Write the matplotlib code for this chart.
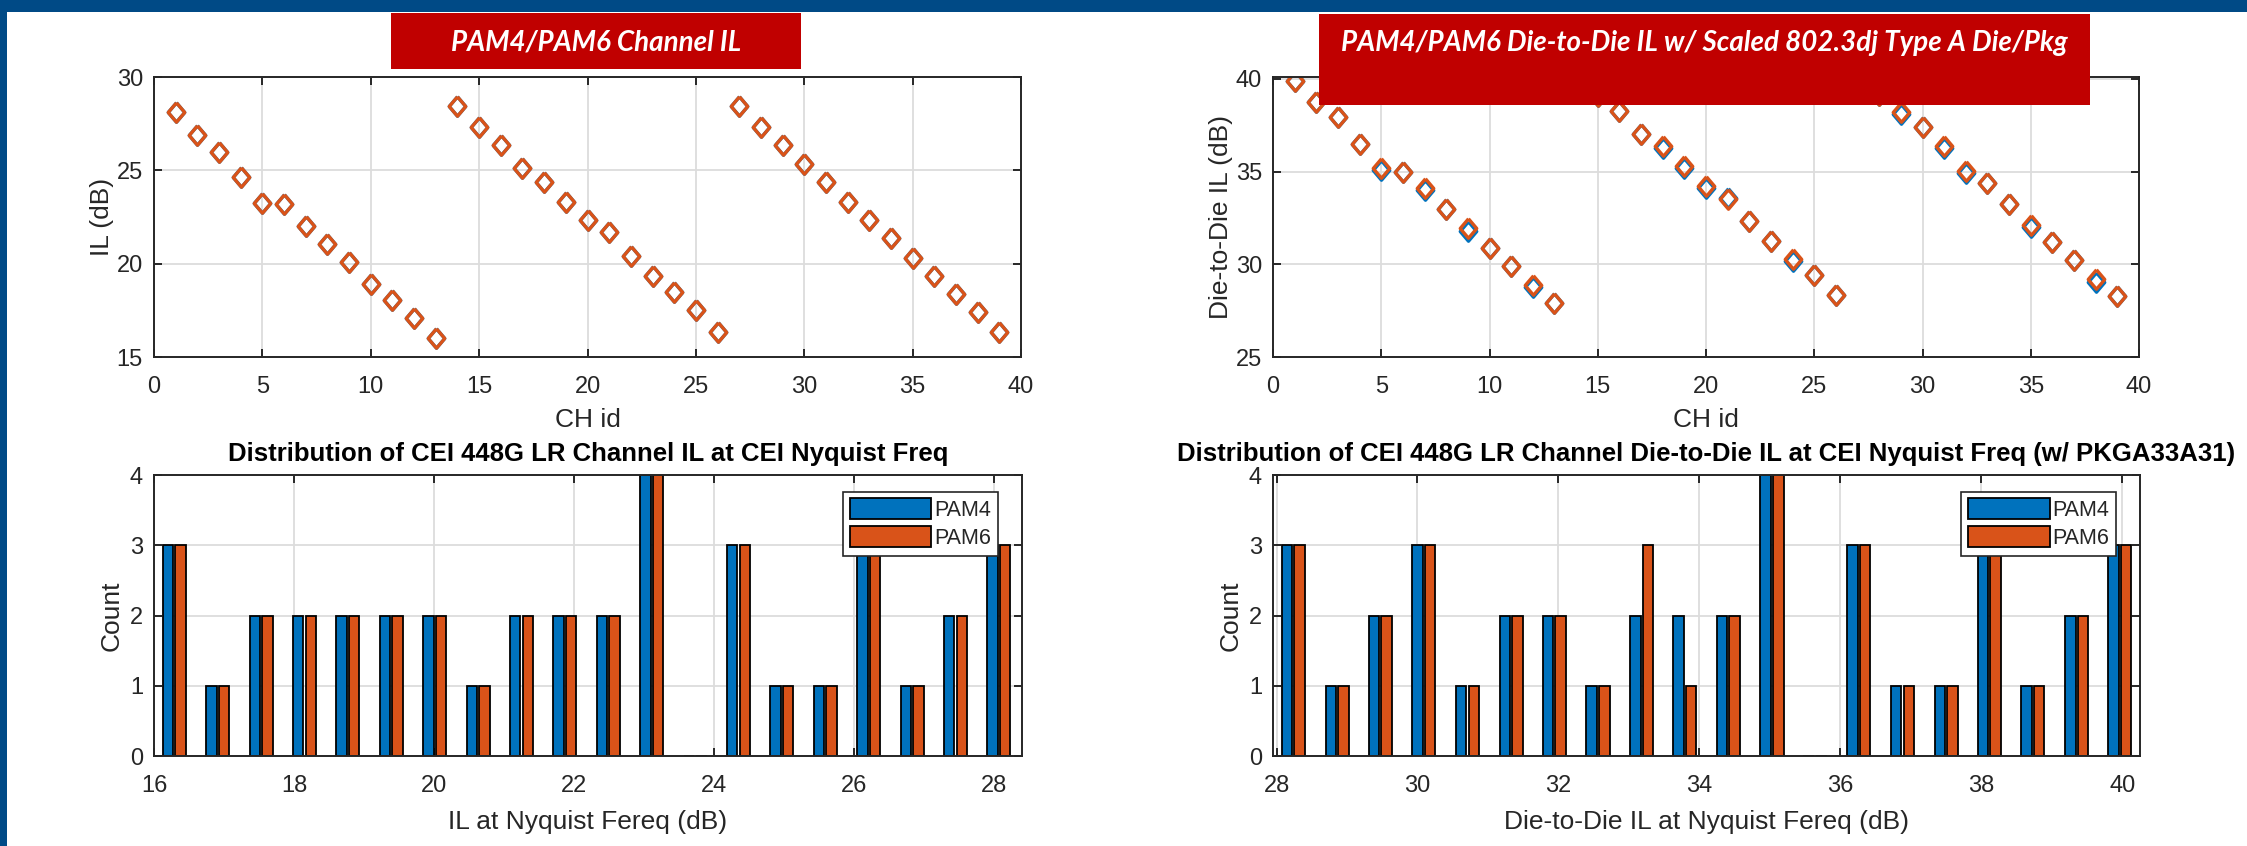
import matplotlib.pyplot as plt
from matplotlib.patches import Rectangle


# ---- data ----
ch_id = [1, 2, 3, 4, 5, 6, 7, 8, 9, 10, 11, 12, 13,
         14, 15, 16, 17, 18, 19, 20, 21, 22, 23, 24, 25, 26,
         27, 28, 29, 30, 31, 32, 33, 34, 35, 36, 37, 38, 39]

il_pam4 = [28.10, 26.90, 25.96, 24.64, 23.25, 23.18, 22.00, 21.04, 20.07, 18.90, 18.07, 17.07, 16.00,
           28.43, 27.32, 26.36, 25.11, 24.36, 23.29, 22.32, 21.68, 20.39, 19.32, 18.46, 17.50, 16.32,
           28.43, 27.32, 26.36, 25.32, 24.36, 23.29, 22.32, 21.36, 20.29, 19.32, 18.36, 17.39, 16.32]
il_pam6 = [28.10, 26.90, 25.96, 24.64, 23.25, 23.18, 22.00, 21.04, 20.07, 18.90, 18.07, 17.07, 16.00,
           28.43, 27.32, 26.36, 25.11, 24.36, 23.29, 22.32, 21.68, 20.39, 19.32, 18.46, 17.50, 16.32,
           28.43, 27.32, 26.36, 25.32, 24.36, 23.29, 22.32, 21.36, 20.29, 19.32, 18.36, 17.39, 16.32]

d2d_pam4 = [39.86, 38.74, 37.93, 36.48, 35.10, 34.99, 33.98, 32.97, 31.82, 30.90, 29.91, 28.75, 27.92,
            40.35, 39.10, 38.29, 37.03, 36.28, 35.17, 34.12, 33.60, 32.34, 31.26, 30.19, 29.40, 28.32,
            40.35, 39.15, 38.12, 37.39, 36.25, 34.94, 34.36, 33.24, 32.00, 31.21, 30.22, 29.07, 28.28]
d2d_pam6 = [39.86, 38.74, 37.93, 36.48, 35.17, 34.99, 34.09, 32.97, 31.93, 30.90, 29.91, 28.86, 27.92,
            40.35, 39.10, 38.29, 37.03, 36.39, 35.28, 34.23, 33.51, 32.34, 31.26, 30.30, 29.40, 28.32,
            40.35, 39.15, 38.23, 37.39, 36.36, 35.05, 34.36, 33.24, 32.11, 31.21, 30.22, 29.18, 28.28]

il_bins = [16.29, 16.91, 17.53, 18.15, 18.77, 19.39, 20.01, 20.63, 21.25, 21.87,
           22.49, 23.11, 23.73, 24.35, 24.97, 25.59, 26.21, 26.83, 27.45, 28.07]
il_count_pam4 = [3, 1, 2, 2, 2, 2, 2, 1, 2, 2, 2, 4, 0, 3, 1, 1, 3, 1, 2, 3]
il_count_pam6 = [3, 1, 2, 2, 2, 2, 2, 1, 2, 2, 2, 4, 0, 3, 1, 1, 3, 1, 2, 3]

d2d_bins = [28.24, 28.86, 29.47, 30.09, 30.71, 31.33, 31.94, 32.56, 33.18, 33.79,
            34.41, 35.03, 35.64, 36.26, 36.88, 37.50, 38.11, 38.73, 39.35, 39.96]
d2d_count_pam4 = [3, 1, 2, 3, 1, 2, 2, 1, 2, 2, 2, 4, 0, 3, 1, 1, 3, 1, 2, 3]
d2d_count_pam6 = [3, 1, 2, 3, 1, 2, 2, 1, 3, 1, 2, 4, 0, 3, 1, 1, 3, 1, 2, 3]

series_names = ["PAM4", "PAM6"]


BLUE = "#0072BD"
ORANGE = "#D95319"
AX_COLOR = "#262626"
FRAME_BLUE = "#004A86"
BOX_RED = "#C00000"

W, H = 2247, 846

# MATLAB style diamond, a bit taller than wide
DIAMOND = [(0, 1), (0.85, 0), (0, -1), (-0.85, 0), (0, 1)]

plt.rcParams["font.family"] = ["Liberation Sans", "DejaVu Sans"]


def style_axes(ax):
    for side in ["left", "right", "top", "bottom"]:
        ax.spines[side].set_color(AX_COLOR)
        ax.spines[side].set_linewidth(1.4)

    ax.tick_params(
        direction="in",
        length=6,
        width=1.4,
        colors=AX_COLOR,
        labelsize=17,
        top=True,
        right=True,
        pad=8
    )
    ax.tick_params(axis="x", pad=14)

    ax.grid(True, color="#DCDCDC", linewidth=1.3)
    ax.set_axisbelow(True)


def axes_at(fig, x0, y0, x1, y1):
    # pixel box -> figure fraction
    return fig.add_axes([x0 / W, 1 - y1 / H, (x1 - x0) / W, (y1 - y0) / H])


def scatter_panel(ax, pam4, pam6, ylim, yticks, ylabel):
    for values, color in [(pam4, BLUE), (pam6, ORANGE)]:
        ax.plot(
            ch_id, values,
            linestyle="none",
            marker=DIAMOND,
            markersize=14,
            markeredgewidth=2.4,
            markerfacecolor="none",
            markeredgecolor=color
        )

    ax.set_xlim(0, 40)
    ax.set_ylim(*ylim)
    ax.set_xticks([0, 5, 10, 15, 20, 25, 30, 35, 40])
    ax.set_yticks(yticks)

    ax.set_xlabel("CH id", fontsize=19, color=AX_COLOR, labelpad=7)
    ax.set_ylabel(ylabel, fontsize=19, color=AX_COLOR, labelpad=2)

    style_axes(ax)


def hist_panel(ax, bins, count4, count6, xlim, xticks, title, xlabel):
    offset = 0.09
    width = 0.15

    ax.bar(
        [b - offset for b in bins], count4,
        width=width,
        color=BLUE,
        edgecolor="black",
        linewidth=1.3,
        label=series_names[0]
    )
    ax.bar(
        [b + offset for b in bins], count6,
        width=width,
        color=ORANGE,
        edgecolor="black",
        linewidth=1.3,
        label=series_names[1]
    )

    ax.set_xlim(*xlim)
    ax.set_ylim(0, 4)
    ax.set_xticks(xticks)
    ax.set_yticks([0, 1, 2, 3, 4])

    ax.set_title(title, fontsize=18.5, fontweight="bold", color="black", pad=10)
    ax.set_xlabel(xlabel, fontsize=19, color=AX_COLOR, labelpad=9)
    ax.set_ylabel("Count", fontsize=19, color=AX_COLOR, labelpad=4.5)

    style_axes(ax)

    legend = ax.legend(
        loc="upper right",
        bbox_to_anchor=(0.9724, 0.9395),
        borderaxespad=0,
        fontsize=15.5,
        handlelength=3.8,
        handleheight=1.1,
        handletextpad=0.15,
        labelspacing=0.25,
        borderpad=0.3,
        fancybox=False,
        framealpha=1,
        edgecolor=AX_COLOR
    )
    legend.get_frame().set_linewidth(1.2)
    for text in legend.get_texts():
        text.set_color(AX_COLOR)


def red_box(fig, x0, y0, x1, y1, text, text_y):
    fig.patches.append(
        Rectangle(
            (x0 / W, 1 - y1 / H),
            (x1 - x0) / W,
            (y1 - y0) / H,
            transform=fig.transFigure,
            facecolor=BOX_RED,
            edgecolor="none",
            zorder=10
        )
    )
    fig.text(
        (x0 + x1) / 2 / W,
        1 - text_y / H,
        text,
        ha="center",
        va="center",
        color="white",
        fontsize=20,
        fontweight="bold",
        fontstyle="italic",
        family=["Lato", "DejaVu Sans"],
        zorder=11
    )


def main():

    fig = plt.figure(figsize=(W / 100, H / 100), dpi=100)
    fig.patch.set_facecolor("white")

    ax_tl = axes_at(fig, 154, 77, 1021, 357)
    ax_tr = axes_at(fig, 1273, 77, 2139, 357)
    ax_bl = axes_at(fig, 154, 475, 1022, 756)
    ax_br = axes_at(fig, 1273, 475, 2140, 756)

    scatter_panel(ax_tl, il_pam4, il_pam6, (15, 30), [15, 20, 25, 30], "IL (dB)")
    scatter_panel(ax_tr, d2d_pam4, d2d_pam6, (25, 40.1), [25, 30, 35, 40], "Die-to-Die IL (dB)")

    hist_panel(
        ax_bl, il_bins, il_count_pam4, il_count_pam6,
        (16, 28.4), [16, 18, 20, 22, 24, 26, 28],
        "Distribution of CEI 448G LR Channel IL at CEI Nyquist Freq",
        "IL at Nyquist Fereq (dB)"
    )
    hist_panel(
        ax_br, d2d_bins, d2d_count_pam4, d2d_count_pam6,
        (27.95, 40.25), [28, 30, 32, 34, 36, 38, 40],
        "Distribution of CEI 448G LR Channel Die-to-Die IL at CEI Nyquist Freq (w/ PKGA33A31)",
        "Die-to-Die IL at Nyquist Fereq (dB)"
    )

    # slide frame: blue bar on top and left
    fig.patches.append(
        Rectangle((0, 1 - 12 / H), 1, 12 / H, transform=fig.transFigure,
                  facecolor=FRAME_BLUE, edgecolor="none", zorder=12)
    )
    fig.patches.append(
        Rectangle((0, 0), 7 / W, 1, transform=fig.transFigure,
                  facecolor=FRAME_BLUE, edgecolor="none", zorder=12)
    )

    red_box(fig, 391, 13, 801, 69, "PAM4/PAM6 Channel IL", 42)
    red_box(fig, 1319, 14, 2090, 105, "PAM4/PAM6 Die-to-Die IL w/ Scaled 802.3dj Type A Die/Pkg", 43)

    fig.savefig("out.png", dpi=100)


if __name__ == "__main__":
    main()
